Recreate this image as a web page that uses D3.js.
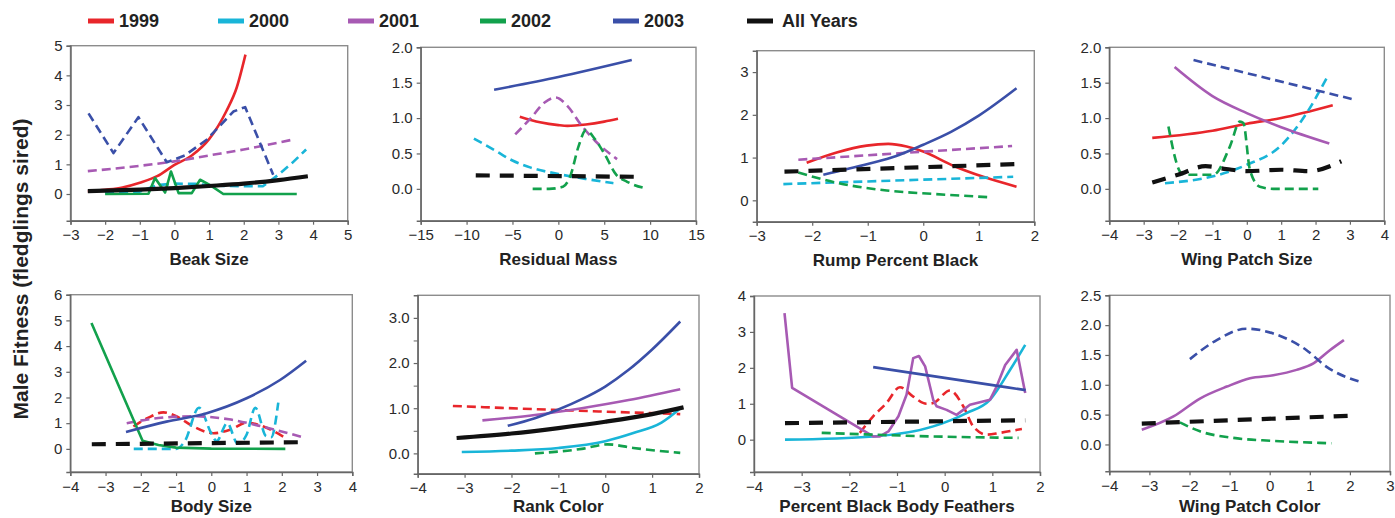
<!DOCTYPE html>
<html>
<head>
<meta charset="utf-8">
<script src="https://cdn.jsdelivr.net/npm/d3@7"></script>
<style>
  body { margin: 0; background: #fff; }
  svg { font-family: "Liberation Sans", Arial, Helvetica, sans-serif; }
</style>
</head>
<body>
<svg id="chart" width="1395" height="518"></svg>
<script>
// legend entries
const years = ["1999", "2000", "2001", "2002", "2003", "All Years"];

// values: [trait value, fledglings sired]
const beakSize = {
  "1999": [[-2.5,0.08],[-2,0.14],[-1.5,0.22],[-1,0.38],[-0.5,0.6],[0,0.98],[0.5,1.3],[1,1.85],[1.5,2.8],[1.8,3.6],[2.05,4.7]],
  "2000": [[-2,0.02],[-1,0.08],[-0.5,0.3],[0,0.35],[0.6,0.34],[1,0.3],[1.5,0.27],[2.55,0.26],[3,0.65],[3.4,1.05],[3.8,1.5]],
  "2001": [[-2.5,0.77],[-1,0.95],[0,1.1],[1,1.3],[2,1.5],[3.4,1.83]],
  "2002": [[-2,0],[-0.75,0.01],[-0.56,0.54],[-0.27,0.05],[-0.1,0.76],[0.12,0.03],[0.5,0.03],[0.74,0.48],[1.03,0.3],[1.41,0],[3.53,0]],
  "2003": [[-2.48,2.72],[-1.76,1.38],[-1.04,2.59],[-0.22,1.07],[0.3,1.3],[0.93,1.83],[1.7,2.78],[2.04,2.93],[2.85,0.65]],
  "All Years": [[-2.5,0.1],[-1,0.15],[0,0.2],[1,0.27],[2,0.35],[3,0.47],[3.85,0.6]]
};

const residualMass = {
  "1999": [[-4.2,1.02],[-2,0.94],[0,0.9],[1,0.89],[3,0.91],[5,0.95],[6.5,0.99]],
  "2000": [[-9.2,0.71],[-7,0.55],[-5,0.4],[-3,0.3],[0,0.21],[3,0.14],[6,0.08]],
  "2001": [[-4.7,0.77],[-3,1.0],[-1.5,1.22],[-0.3,1.29],[1,1.17],[2.5,0.9],[4,0.68],[6.4,0.42]],
  "2002": [[-2.8,0],[-1,0],[0.5,0.03],[1.3,0.18],[2.2,0.6],[3,0.83],[4,0.7],[5,0.5],[6.3,0.2],[7.5,0.1],[9.7,0]],
  "2003": [[-7,1.4],[0,1.58],[8,1.82]],
  "All Years": [[-9,0.19],[9.3,0.17]]
};

const rumpBlack = {
  "1999": [[-2.1,0.88],[-1.56,1.12],[-1.02,1.28],[-0.63,1.32],[-0.3,1.26],[0,1.14],[0.54,0.81],[1.08,0.55],[1.68,0.32]],
  "2000": [[-2.52,0.38],[1.62,0.55]],
  "2001": [[-2.25,0.95],[1.6,1.27]],
  "2002": [[-2.25,0.65],[-1.56,0.41],[-0.66,0.23],[0.18,0.15],[1.23,0.07]],
  "2003": [[-1.8,0.6],[-1,0.85],[-0.5,1.03],[0,1.3],[0.5,1.6],[1,1.98],[1.68,2.62]],
  "All Years": [[-2.5,0.67],[1.75,0.85]]
};

const wingPatchSize = {
  "1999": [[-2.75,0.72],[-1,0.82],[0,0.92],[1,1.0],[2.5,1.18]],
  "2000": [[-2.38,0.08],[-0.88,0.19],[0,0.34],[0.97,0.6],[1.74,1.07],[2.34,1.58]],
  "2001": [[-2.1,1.72],[-1,1.31],[0,1.07],[1,0.87],[2.4,0.64]],
  "2002": [[-2.28,0.88],[-1.9,0.22],[-1.75,0.2],[-0.97,0.2],[-0.49,0.6],[-0.2,0.95],[-0.1,0.93],[0.09,0.27],[0.38,0.03],[0.77,0],[2.08,0]],
  "2003": [[-1.55,1.82],[3.05,1.27]],
  "All Years": [[-2.75,0.09],[-2,0.2],[-1.2,0.32],[-0.6,0.28],[0,0.25],[1,0.27],[1.8,0.25],[2.75,0.39]]
};

const bodySize = {
  "1999": [[-2.21,0.87],[-1.8,1.2],[-1.36,1.42],[-0.98,1.26],[-0.51,0.87],[0.06,0.61],[0.53,0.74],[1.0,1.02],[1.48,0.87],[2.04,0.48]],
  "2000": [[-2.2,0],[-1.0,0],[-0.75,0.3],[-0.35,1.6],[0,0.6],[0.15,0.3],[0.45,1.0],[0.75,0.2],[1.0,0.55],[1.25,1.6],[1.55,0.5],[1.7,0.45],[1.9,1.8]],
  "2001": [[-2.4,1.0],[-1.5,1.2],[-0.5,1.27],[0.5,1.15],[1.5,0.85],[2.6,0.45]],
  "2002": [[-3.4,4.9],[-1.95,0.32],[-1.5,0.15],[-1,0.05],[0,0.01],[2.1,0]],
  "2003": [[-2.42,0.66],[-1.27,1.06],[-0.13,1.39],[1.0,1.97],[1.95,2.68],[2.69,3.43]],
  "All Years": [[-3.39,0.18],[2.69,0.26]]
};

const rankColor = {
  "1999": [[-3.25,1.05],[-1,0.96],[1.6,0.87]],
  "2000": [[-3.06,0.03],[-2,0.06],[-1,0.12],[0,0.27],[0.6,0.45],[1.2,0.68],[1.63,1.02]],
  "2001": [[-2.62,0.73],[-1.5,0.85],[-0.5,1.0],[0.5,1.18],[1.6,1.42]],
  "2002": [[-1.5,0],[-0.5,0.1],[0.05,0.2],[0.6,0.12],[1.6,0.01]],
  "2003": [[-2.08,0.61],[-1.5,0.78],[-1,0.97],[-0.5,1.2],[0,1.48],[0.5,1.85],[1,2.3],[1.6,2.92]],
  "All Years": [[-3.17,0.34],[-2,0.44],[-1,0.56],[0,0.7],[1,0.87],[1.67,1.02]]
};

const blackBody = {
  "1999": [[-1.78,0.19],[-1.5,0.65],[-1.22,1.02],[-0.94,1.46],[-0.66,1.2],[-0.38,1.0],[-0.24,1.02],[0.11,1.37],[0.39,0.93],[0.6,0.37],[0.88,0.14],[1.16,0.19],[1.62,0.3]],
  "2000": [[-3.35,0],[-1.5,0.09],[-0.24,0.37],[0.46,0.74],[0.95,1.11],[1.37,1.94],[1.69,2.64]],
  "2001": [[-3.36,3.52],[-3.2,1.44],[-1.5,0.09],[-1.36,0.09],[-1.18,0.23],[-0.97,0.65],[-0.8,1.25],[-0.66,2.27],[-0.54,2.33],[-0.41,2.04],[-0.24,1.11],[-0.17,0.93],[0.04,0.83],[0.25,0.69],[0.39,0.83],[0.53,0.97],[0.95,1.11],[1.09,1.48],[1.27,2.08],[1.51,2.5],[1.69,1.3]],
  "2002": [[-2.58,0.19],[-1.5,0.14],[-0.24,0.09],[1.55,0.05]],
  "2003": [[-1.5,2.02],[0,1.72],[1.7,1.38]],
  "All Years": [[-3.35,0.46],[1.69,0.54]]
};

const wingPatchColor = {
  "2001": [[-3.19,0.245],[-2.4,0.47],[-1.74,0.77],[-1.07,0.97],[-0.49,1.11],[0.09,1.16],[0.67,1.25],[1.09,1.36],[1.5,1.58],[1.85,1.75]],
  "2002": [[-2.24,0.37],[-1.74,0.22],[-0.91,0.11],[0.09,0.06],[1.54,0.02]],
  "2003": [[-1.99,1.43],[-1.32,1.75],[-0.58,1.94],[0.09,1.86],[0.92,1.58],[1.42,1.3],[2.25,1.05]],
  "All Years": [[-3.19,0.35],[1.96,0.48]]
};

const colors = {
  "1999": "#e8262b", "2000": "#19b5d8", "2001": "#a75ab3",
  "2002": "#12a14c", "2003": "#3a4fa8", "All Years": "#111111"
};

// panel layout: box in pixels, axis domains, which series are solid / drawn straight
const panels = [
  { title: "Beak Size", data: beakSize, box: [70.5, 45.7, 347.7, 220.7],
    xd: [-3, 5], xt: d3.range(-3, 6), yd: [-0.9, 5], yt: d3.range(0, 6), yf: "d",
    solid: ["1999", "2002", "All Years"], straight: ["2000", "2002", "2003"] },
  { title: "Residual Mass", data: residualMass, box: [420.7, 47.3, 696, 220.7],
    xd: [-15, 15], xt: d3.range(-15, 16, 5), yd: [-0.45, 2], yt: [0, 0.5, 1, 1.5, 2], yf: ".1f",
    solid: ["1999", "2003"], straight: [] },
  { title: "Rump Percent Black", data: rumpBlack, box: [756.7, 50.7, 1034.3, 221.7],
    xd: [-3, 2], xt: d3.range(-3, 3), yd: [-0.5, 3.5], yt: [0, 1, 2, 3], yf: "d",
    solid: ["1999", "2003"], straight: [] },
  { title: "Wing Patch Size", data: wingPatchSize, box: [1109.3, 47.3, 1384.3, 220.7],
    xd: [-4, 4], xt: d3.range(-4, 5), yd: [-0.45, 2], yt: [0, 0.5, 1, 1.5, 2], yf: ".1f",
    solid: ["1999", "2001"], straight: [] },
  { title: "Body Size", data: bodySize, box: [70.3, 294.7, 352.3, 472],
    xd: [-4, 4], xt: d3.range(-4, 5), yd: [-0.9, 6], yt: d3.range(0, 7), yf: "d",
    solid: ["2002", "2003"], straight: ["2002"] },
  { title: "Rank Color", data: rankColor, box: [417.7, 295.3, 699, 473.7],
    xd: [-4, 2], xt: d3.range(-4, 3), yd: [-0.45, 3.5], yt: [0, 1, 2, 3], yf: ".1f", minor: [0.5, 1.5, 2.5],
    solid: ["2000", "2001", "2003", "All Years"], straight: [] },
  { title: "Percent Black Body Feathers", data: blackBody, box: [754, 296, 1040, 472],
    xd: [-4, 2], xt: d3.range(-4, 3), yd: [-0.9, 4], yt: d3.range(0, 5), yf: "d",
    solid: ["2000", "2001", "2003"], straight: ["2001"] },
  { title: "Wing Patch Color", data: wingPatchColor, box: [1109.3, 295.3, 1390, 471.3],
    xd: [-4, 3], xt: d3.range(-4, 4), yd: [-0.45, 2.5], yt: [0, 0.5, 1, 1.5, 2, 2.5], yf: ".1f",
    solid: ["2001"], straight: [] }
];

const svg = d3.select("#chart");

panels.forEach(p => {
  const [l, t, r, b] = p.box;
  const x = d3.scaleLinear().domain(p.xd).range([l, r]);
  const y = d3.scaleLinear().domain(p.yd).range([b, t]);
  const g = svg.append("g");

  // frame
  g.append("rect")
    .attr("x", l).attr("y", t).attr("width", r - l).attr("height", b - t)
    .attr("fill", "none").attr("stroke", "#8c8c8c").attr("stroke-width", 1.4);

  // axes
  const xAxis = g.append("g").attr("transform", `translate(0,${b})`)
    .call(d3.axisBottom(x).tickValues(p.xt).tickFormat(d3.format("d")).tickSize(4).tickPadding(5));
  const yAxis = g.append("g").attr("transform", `translate(${l},0)`)
    .call(d3.axisLeft(y).tickValues(p.yt).tickFormat(d3.format(p.yf)).tickSize(4).tickPadding(4));
  if (p.minor) {
    g.append("g").attr("transform", `translate(${l},0)`)
      .call(d3.axisLeft(y).tickValues(p.minor).tickFormat("").tickSize(4))
      .call(a => a.select(".domain").remove())
      .selectAll("line").attr("stroke", "#666");
  }
  [xAxis, yAxis].forEach(a => {
    a.select(".domain").attr("stroke", "#666").attr("stroke-width", 1.4);
    a.selectAll(".tick line").attr("stroke", "#666").attr("stroke-width", 1.2);
    a.selectAll(".tick text").attr("fill", "#2a2a2a").style("font-size", "15px");
  });

  // curves, All Years drawn last
  const keys = years.filter(k => p.data[k]);
  keys.forEach(k => {
    const all = k === "All Years";
    const solid = p.solid.includes(k);
    const line = d3.line()
      .x(d => x(d[0])).y(d => y(d[1]))
      .curve(p.straight.includes(k) ? d3.curveLinear : d3.curveMonotoneX);
    g.append("path")
      .datum(p.data[k])
      .attr("d", line)
      .attr("fill", "none")
      .attr("stroke", colors[k])
      .attr("stroke-width", all ? 4.2 : 2.6)
      .attr("stroke-linejoin", "round")
      .attr("stroke-dasharray", solid ? null : (all ? "14,10" : "9,5"));
  });

  // axis title (kept inside the 518px window)
  g.append("text")
    .attr("x", (l + r) / 2).attr("y", Math.min(b + 44, 512))
    .attr("text-anchor", "middle")
    .style("font-size", "17px").style("font-weight", "bold").attr("fill", "#222")
    .text(p.title);
});

// shared y title
svg.append("text")
  .attr("transform", "translate(28,269) rotate(-90)")
  .attr("text-anchor", "middle")
  .style("font-size", "21px").style("font-weight", "bold").attr("fill", "#222")
  .text("Male Fitness (fledglings sired)");

// legend
const legendX = [88, 218, 348, 480, 613, 747];
const legend = svg.append("g");
years.forEach((k, i) => {
  legend.append("line")
    .attr("x1", legendX[i]).attr("x2", legendX[i] + 26)
    .attr("y1", 21).attr("y2", 21)
    .attr("stroke", colors[k]).attr("stroke-width", 5);
  legend.append("text")
    .attr("x", legendX[i] + (k === "All Years" ? 35 : 31)).attr("y", 27)
    .style("font-size", "18px").style("font-weight", "bold").attr("fill", "#222")
    .text(k);
});
</script>
</body>
</html>
